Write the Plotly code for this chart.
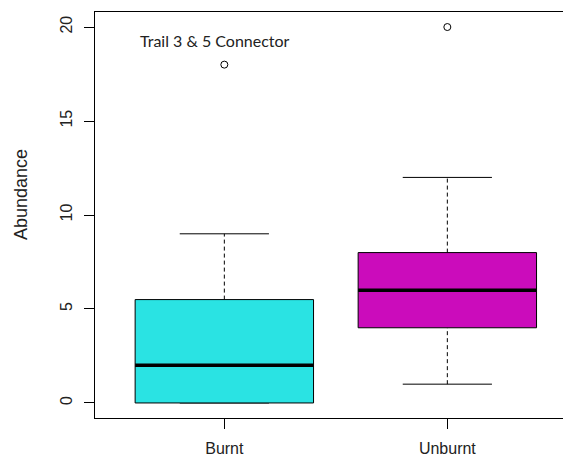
import plotly.graph_objects as go

# summary stats
groups = ["Burnt", "Unburnt"]
positions = [1, 2]
lower_whisker = [0, 1]
q1 = [0, 4]
median = [2, 6]
q3 = [5.5, 8]
upper_whisker = [9, 12]
outliers = [[18], [20]]
fill_colors = ["#2AE3E3", "#CB0CBB"]

y_ticks = [0, 5, 10, 15, 20]

BOX_HALF = 0.4
CAP_HALF = 0.2

# page body has an 8px margin, so the figure is drawn slightly smaller
PAGE_PAD = 8
PLOT_LEFT, PLOT_TOP, PLOT_BOTTOM = 95, 12, 418
PLOT_W = 571 - PLOT_LEFT
PLOT_H = PLOT_BOTTOM - PLOT_TOP

fig = go.Figure()

for pos, lo, a, m, b, hi, outs, col in zip(
    positions, lower_whisker, q1, median, q3, upper_whisker, outliers, fill_colors
):
    # dashed whiskers
    for y0, y1 in [(lo, a), (b, hi)]:
        if y0 != y1:
            fig.add_trace(
                go.Scatter(
                    x=[pos, pos],
                    y=[y0, y1],
                    mode="lines",
                    line=dict(color="black", width=1, dash="4px,3px"),
                    hoverinfo="skip",
                )
            )
    # whisker caps
    for yc in [lo, hi]:
        fig.add_trace(
            go.Scatter(
                x=[pos - CAP_HALF, pos + CAP_HALF],
                y=[yc, yc],
                mode="lines",
                line=dict(color="black", width=1),
                hoverinfo="skip",
            )
        )
    # box
    fig.add_trace(
        go.Scatter(
            x=[pos - BOX_HALF, pos + BOX_HALF, pos + BOX_HALF, pos - BOX_HALF, pos - BOX_HALF],
            y=[a, a, b, b, a],
            mode="lines",
            fill="toself",
            fillcolor=col,
            line=dict(color="black", width=1),
            hoverinfo="skip",
        )
    )
    # median
    fig.add_trace(
        go.Scatter(
            x=[pos - BOX_HALF, pos + BOX_HALF],
            y=[m, m],
            mode="lines",
            line=dict(color="black", width=3.5),
            hoverinfo="skip",
        )
    )
    # outliers
    fig.add_trace(
        go.Scatter(
            x=[pos] * len(outs),
            y=outs,
            mode="markers",
            marker=dict(symbol="circle-open", size=7, color="black", line=dict(width=1)),
            hoverinfo="skip",
        )
    )

fig.add_annotation(
    text="Trail 3 & 5 Connector",
    xref="paper", yref="paper",
    x=(215 - PLOT_LEFT) / PLOT_W, y=(PLOT_BOTTOM - 40) / PLOT_H,
    xanchor="center", yanchor="middle",
    showarrow=False,
    font=dict(family="Lato", size=16, color="#222222"),
)

fig.add_annotation(
    text="Abundance",
    xref="paper", yref="paper",
    x=-(PLOT_LEFT - 21) / PLOT_W, y=(PLOT_BOTTOM - 195) / PLOT_H,
    xanchor="center", yanchor="middle",
    textangle=-90,
    showarrow=False,
    font=dict(family="Liberation Sans, Arial", size=18, color="#222222"),
)

fig.update_layout(
    width=571 - PAGE_PAD,
    height=464 - PAGE_PAD,
    margin=dict(l=PLOT_LEFT - PAGE_PAD, r=0, t=PLOT_TOP - PAGE_PAD, b=464 - PLOT_BOTTOM),
    plot_bgcolor="white",
    paper_bgcolor="white",
    showlegend=False,
    font=dict(family="Liberation Sans, Arial", size=16, color="#222222"),
    xaxis=dict(
        range=[0.42, 0.42 + PLOT_W / 223],
        tickvals=positions,
        ticktext=groups,
        showgrid=False,
        zeroline=False,
        showline=True,
        mirror=True,
        linecolor="black",
        linewidth=1,
        ticks="outside",
        ticklen=10,
        tickcolor="black",
        ticklabelstandoff=6,
    ),
    yaxis=dict(
        range=[-0.8, 20.8],
        tickvals=y_ticks,
        tickangle=-90,
        showgrid=False,
        zeroline=False,
        showline=True,
        linecolor="black",
        linewidth=1,
        ticks="outside",
        ticklen=10,
        tickcolor="black",
        ticklabelstandoff=6,
    ),
)

fig.write_html("out.html")
